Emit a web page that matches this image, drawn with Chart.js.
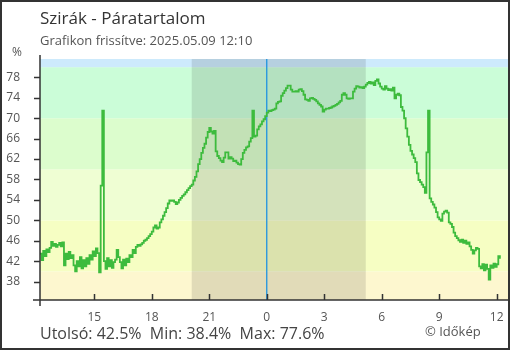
<!DOCTYPE html>
<html>
<head>
<meta charset="utf-8">
<script src="https://cdn.jsdelivr.net/npm/chart.js@4.4.1/dist/chart.umd.min.js"></script>
<style>
  html, body { margin: 0; padding: 0; background: #fff; }
</style>
</head>
<body>
<canvas id="grafikonPara" width="510" height="350"></canvas>
<script>
const cim = 'Szirák - Páratartalom';
const frissitve = 'Grafikon frissítve: 2025.05.09 12:10';

// 5 percenkénti mérések, 12:10-től (előző nap) 12:10-ig
const kezdoOra = 12 + 10 / 60;
const lepesOra = 5 / 60;
const paratartalom = [
  43.5, 42.2, 44.0, 43.0, 44.3, 43.8, 44.6, 45.8, 45.0, 45.4, 44.8, 45.2,
  45.6, 44.9, 45.7, 41.2, 43.5, 42.4, 43.8, 42.6, 43.2, 41.2, 40.0, 42.0,
  41.0, 42.8, 40.6, 42.2, 41.0, 42.6, 41.5, 43.2, 42.3, 43.9, 43.0, 44.5,
  43.6, 39.8, 56.8, 71.5, 42.0, 40.5, 42.6, 41.0, 42.2, 40.7, 41.8, 42.3,
  44.2, 42.8, 41.8, 40.6, 42.3, 41.2, 42.5, 41.8, 43.2, 42.8, 44.2, 43.6,
  44.8, 45.2, 45.0, 45.3, 45.6, 46.0, 46.2, 46.5, 46.9, 47.3, 47.8, 48.6,
  49.0, 48.4, 48.6, 49.6, 50.2, 50.9, 51.6, 52.4, 53.3, 53.9, 53.8, 53.9,
  53.6, 53.2, 53.5, 54.0, 54.4, 54.8, 55.1, 55.5, 55.9, 56.3, 56.7, 57.0,
  57.8, 58.5, 59.6, 61.0, 62.0, 63.2, 64.2, 65.0, 66.2, 67.3, 68.1, 67.4,
  67.0, 67.5, 63.5, 62.6, 62.2, 61.7, 61.4, 62.3, 63.3, 63.3, 62.1, 62.4,
  62.1, 61.6, 61.7, 61.3, 61.0, 60.9, 62.0, 63.2, 63.8, 64.3, 64.5, 65.4,
  66.1, 71.5, 66.4, 66.6, 67.8, 68.4, 68.8, 69.4, 69.8, 70.4, 71.1, 71.5,
  71.4, 71.6, 71.7, 71.9, 72.9, 73.2, 73.3, 74.4, 74.9, 75.4, 75.9, 76.4,
  76.4, 75.6, 75.2, 75.2, 75.3, 75.2, 75.6, 75.7, 75.3, 74.6, 73.7, 73.6,
  73.4, 73.9, 74.0, 73.8, 73.6, 73.3, 72.9, 72.6, 72.3, 71.3, 71.7, 71.9,
  71.9, 72.0, 72.1, 72.3, 72.4, 72.6, 72.8, 73.1, 73.4, 74.6, 74.9, 74.6,
  73.9, 73.8, 73.9, 73.9, 75.2, 75.8, 76.3, 76.2, 76.0, 76.1, 75.9, 76.2,
  76.6, 76.9, 77.1, 76.8, 77.0, 76.5, 77.3, 77.6, 76.8, 76.2, 75.8, 75.6,
  76.3, 75.8, 75.5, 75.7, 75.4, 76.0, 73.9, 74.6, 74.8, 74.5, 72.2, 71.5,
  70.0, 68.0, 66.4, 64.8, 63.6, 62.9, 62.2, 61.4, 59.2, 57.9, 57.5, 57.0,
  56.5, 55.4, 63.3, 71.5, 54.3, 53.6, 53.1, 52.5, 51.6, 50.6, 50.2, 49.9,
  51.3, 51.7, 51.9, 51.5, 49.6, 49.3, 48.7, 47.6, 46.9, 46.5, 46.1, 45.8,
  46.2, 45.6, 46.0, 45.4, 45.7, 44.9, 44.2, 43.5, 44.1, 44.6, 44.4, 41.0,
  40.6, 41.4, 40.2, 41.3, 40.5, 38.4, 41.2, 40.7, 41.5, 40.9, 41.4, 43.0,
  42.5
];

const xTickek = [15, 18, 21, 24, 27, 30, 33, 36];
const yTickek = [38, 42, 46, 50, 54, 58, 62, 66, 70, 74, 78];
const savHatarok = [34.4, 40, 50, 60, 70, 80, 81.6];
const savSzinek = ['#fdf7cf', '#f6fec3', '#effed3', '#dcfdcd', '#cbfdd8', '#cdeafc'];
const ejKezdet = 20 + 5 / 60;
const ejVege = 24 + 5 + 10 / 60;
const ejfel = 24;

const pontok = paratartalom.map((v, i) => ({ x: kezdoOra + i * lepesOra, y: v }));

const utolso = paratartalom[paratartalom.length - 1];
const minimum = Math.min(...paratartalom);
const maximum = Math.max(...paratartalom);

const betu = '"Open Sans", "Noto Sans", sans-serif';

const hatterPlugin = {
  id: 'hatter',
  beforeDatasetsDraw(chart) {
    const { ctx, chartArea: a, scales: { x, y } } = chart;
    ctx.save();
    for (let i = 0; i < savSzinek.length; i++) {
      const y1 = y.getPixelForValue(savHatarok[i + 1]);
      const y2 = y.getPixelForValue(savHatarok[i]);
      ctx.fillStyle = savSzinek[i];
      ctx.fillRect(a.left, y1, a.right - a.left, y2 - y1);
    }
    const e1 = x.getPixelForValue(ejKezdet);
    const e2 = x.getPixelForValue(ejVege);
    ctx.fillStyle = 'rgba(0, 0, 0, 0.11)';
    ctx.fillRect(e1, a.top, e2 - e1, a.bottom - a.top);

    const ex = x.getPixelForValue(ejfel);
    ctx.strokeStyle = '#1e93e0';
    ctx.lineWidth = 1.3;
    ctx.beginPath();
    ctx.moveTo(ex, a.top);
    ctx.lineTo(ex, a.bottom);
    ctx.stroke();
    ctx.restore();
  },
  afterDraw(chart) {
    const { ctx, chartArea: a, scales: { x, y } } = chart;
    ctx.save();
    ctx.strokeStyle = '#333';
    ctx.lineWidth = 1.5;
    ctx.beginPath();
    ctx.moveTo(a.left, a.top - 4);
    ctx.lineTo(a.left, a.bottom + 6);
    ctx.moveTo(a.left - 7, a.bottom);
    ctx.lineTo(510, a.bottom);
    yTickek.forEach(v => {
      const py = Math.round(y.getPixelForValue(v)) + 0.5;
      ctx.moveTo(a.left - 6, py);
      ctx.lineTo(a.left, py);
    });
    xTickek.forEach(v => {
      const px = Math.round(x.getPixelForValue(v)) + 0.5;
      ctx.moveTo(px, a.bottom - 6);
      ctx.lineTo(px, a.bottom);
    });
    ctx.stroke();

    // keret
    ctx.lineWidth = 2;
    ctx.strokeRect(1, 1, 508, 348);

    ctx.textBaseline = 'alphabetic';
    ctx.textAlign = 'left';
    ctx.fillStyle = '#333';
    ctx.font = '17px ' + betu;
    ctx.fillText(cim, 40, 24);
    ctx.fillStyle = '#555';
    ctx.font = '13px ' + betu;
    ctx.fillText(frissitve, 40, 45);
    ctx.font = '12px ' + betu;
    ctx.fillText('%', 12, 56);

    ctx.fillStyle = '#444';
    ctx.font = '16px ' + betu;
    ctx.fillText('Utolsó: ' + utolso.toFixed(1) + '%  Min: ' + minimum.toFixed(1) +
      '%  Max: ' + maximum.toFixed(1) + '%', 40, 339);
    ctx.fillStyle = '#555';
    ctx.font = '13px ' + betu;
    ctx.fillText('© Időkép', 425, 336);
    ctx.restore();
  }
};

const ctx = document.getElementById('grafikonPara').getContext('2d');

const paraChart = new Chart(ctx, {
  type: 'line',
  data: {
    datasets: [{
      label: 'Páratartalom',
      data: pontok,
      borderColor: '#3dbb3d',
      borderWidth: 1.8,
      pointRadius: 0,
      stepped: true,
      fill: false
    }]
  },
  options: {
    responsive: false,
    animation: false,
    layout: { padding: { top: 59, right: 2, left: 0, bottom: 0 } },
    plugins: {
      legend: { display: false },
      tooltip: { enabled: false }
    },
    scales: {
      x: {
        type: 'linear',
        min: kezdoOra,
        max: 36.59,
        grid: { display: false, drawTicks: false },
        border: { display: false },
        afterBuildTicks: s => { s.ticks = xTickek.map(v => ({ value: v })); },
        afterFit: s => { s.height = 50; s.paddingLeft = 0; s.paddingRight = 0; },
        ticks: {
          autoSkip: false,
          maxRotation: 0,
          padding: 10,
          color: '#555',
          font: { family: betu, size: 12 },
          callback: v => String(v % 24)
        }
      },
      y: {
        type: 'linear',
        min: 34.4,
        max: 81.6,
        grid: { display: false, drawTicks: false },
        border: { display: false },
        afterBuildTicks: s => { s.ticks = yTickek.map(v => ({ value: v })); },
        afterFit: s => { s.width = 40; s.paddingTop = 0; s.paddingBottom = 0; },
        ticks: {
          padding: 20,
          color: '#555',
          font: { family: betu, size: 12 }
        }
      }
    }
  },
  plugins: [hatterPlugin]
});
</script>
</body>
</html>
